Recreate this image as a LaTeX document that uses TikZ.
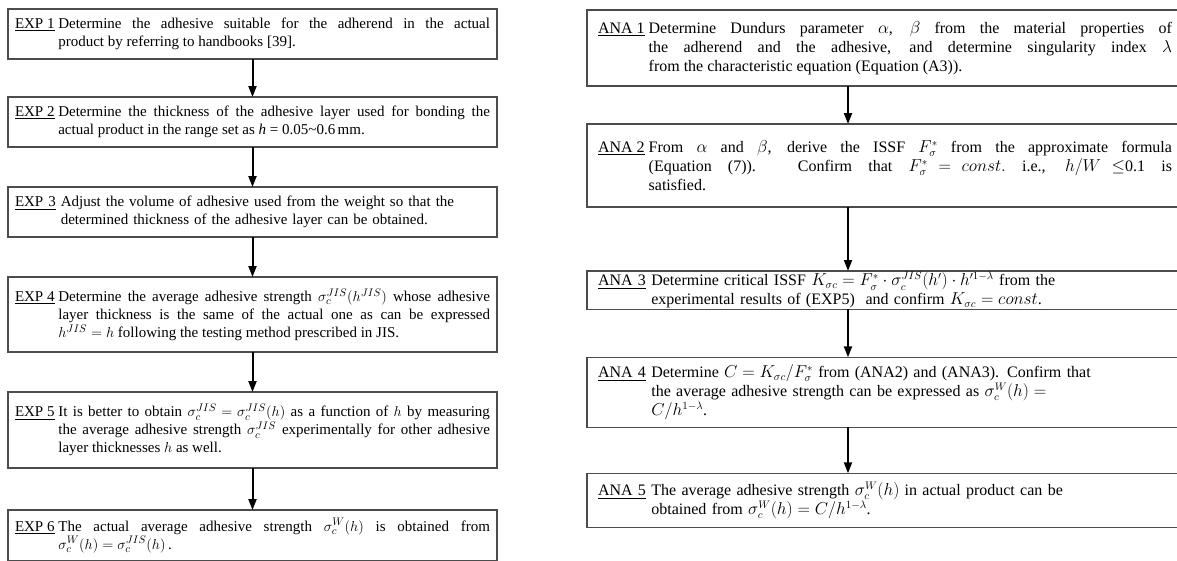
\documentclass[tikz,border=0pt]{standalone}
\usepackage{amsmath}
\usepackage{fontspec}
\setmainfont{Liberation Serif}
\usetikzlibrary{arrows.meta,positioning,calc}
\thickmuskip=5mu plus 1mu
\medmuskip=4mu plus 1mu
\lineskiplimit=3pt
\lineskip=3pt
\newcommand{\flowitem}[2]{\setbox0=\hbox{\underline{#1}\ }%
	\hangindent=\wd0 \hangafter=1 \noindent\box0 #2\par}
\tikzset{
	flow chart/.style={
		x=1pt, y=-1pt,
		font=\fontsize{15}{18}\selectfont,
		node distance=40pt,
		ar/.style={-{Triangle[length=11pt,width=8pt]}, line width=2pt}
		},
	procbox/.style={draw=black!70, line width=1.2pt, outer sep=0pt,
		inner xsep=7pt, inner ysep=1pt},
	expbox/.style={procbox, text width=475pt, minimum width=489pt},
	anabox/.style={procbox, text width=574pt, minimum width=596pt,
		font=\fontsize{16}{19}\selectfont}
}
\begin{document}
\begin{tikzpicture}[flow chart]
   \useasboundingbox (0,0) rectangle (1177,560);
   % experiment side
   \node[expbox, align=justify, minimum height=50pt, anchor=north west] (E1) at (8,9)
      {\flowitem{EXP 1}{Determine the adhesive suitable for the adherend in the actual\linebreak
       product by referring to handbooks [39].}};
   \node[expbox, align=justify, minimum height=50pt, below=38pt of E1] (E2)
      {\flowitem{EXP 2}{Determine the thickness of the adhesive layer used for bonding the\linebreak
       actual product in the range set as \textit{h} = 0.05\textasciitilde0.6\,mm.}};
   \node[expbox, align=left, minimum height=50pt, below=40pt of E2] (E3)
      {\flowitem{EXP 3}{Adjust the volume of adhesive used from the weight so that the\newline
       determined thickness of the adhesive layer can be obtained.}};
   \node[expbox, align=justify, minimum height=75pt, below=40pt of E3] (E4)
      {\flowitem{EXP 4}{Determine the average adhesive strength $\sigma_c^{JIS}(h^{JIS})$ whose adhesive\linebreak
       layer thickness is the same of the actual one as can be expressed\linebreak
       $h^{JIS}=h$\ following the testing method prescribed in JIS.}};
   \node[expbox, align=justify, minimum height=76pt, below=40pt of E4] (E5)
      {\flowitem{EXP 5}{It is better to obtain $\sigma_c^{JIS}=\sigma_c^{JIS}(h)$ as a function of $h$ by measuring\linebreak
       the average adhesive strength $\sigma_c^{JIS}$ experimentally for other adhesive\linebreak
       layer thicknesses $h$\ as well.}};
   \node[expbox, align=justify, minimum height=51pt, below=42pt of E5] (E6)
      {\flowitem{EXP 6}{The actual average adhesive strength $\sigma_c^{W}(h)$ is obtained from\linebreak
       $\sigma_c^{W}(h)=\sigma_c^{JIS}(h)$\,.}};
   % analysis side
   \node[anabox, align=justify, minimum height=76pt, anchor=north west] (A1) at (587,10)
      {\flowitem{ANA 1}{Determine Dundurs parameter $\alpha$, $\beta$ from the material properties of\linebreak
       the adherend and the adhesive, and determine singularity index $\lambda$\linebreak
       from the characteristic equation (Equation (A3)).}};
   \node[anabox, align=justify, minimum height=83pt, below=38pt of A1] (A2)
      {\flowitem{ANA 2}{From $\alpha$ and $\beta$, derive the ISSF $F_\sigma^*$ from the approximate formula\linebreak
       (Equation (7)). Confirm that $F_\sigma^*=const.$ i.e., $h/W\le$0.1 is\linebreak
       satisfied.}};
   \node[anabox, align=left, minimum height=38pt, below=64pt of A2] (A3)
      {\flowitem{ANA 3}{Determine critical ISSF $K_{\sigma c}=F_\sigma^*\cdot\sigma_c^{JIS}(h')\cdot h'^{1-\lambda}$ from the\newline
       experimental results of (EXP5)\ \ and confirm $K_{\sigma c}=const$.}};
   \node[anabox, align=left, minimum height=70pt, below=48pt of A3] (A4)
      {\flowitem{ANA 4}{Determine $C=K_{\sigma c}/F_\sigma^*$ from (ANA2) and (ANA3). Confirm that\newline
       the average adhesive strength can be expressed as $\sigma_c^{W}(h)=$\newline
       $C/h^{1-\lambda}$.}};
   \node[anabox, align=left, minimum height=54pt, below=46pt of A4] (A5)
      {\flowitem{ANA 5}{The average adhesive strength $\sigma_c^{W}(h)$ in actual product can be\newline
       obtained from $\sigma_c^{W}(h)=C/h^{1-\lambda}$.}};
   \coordinate (rx) at (848,0);
   \foreach \a/\b in {E1/E2,E2/E3,E3/E4,E4/E5,E5/E6}
      \draw[ar] (\a) -- (\b);
   \foreach \a/\b in {A1/A2,A2/A3,A3/A4,A4/A5}
      \draw[ar] (\a.south -| rx) -- (\b.north -| rx);
\end{tikzpicture}
\end{document}
